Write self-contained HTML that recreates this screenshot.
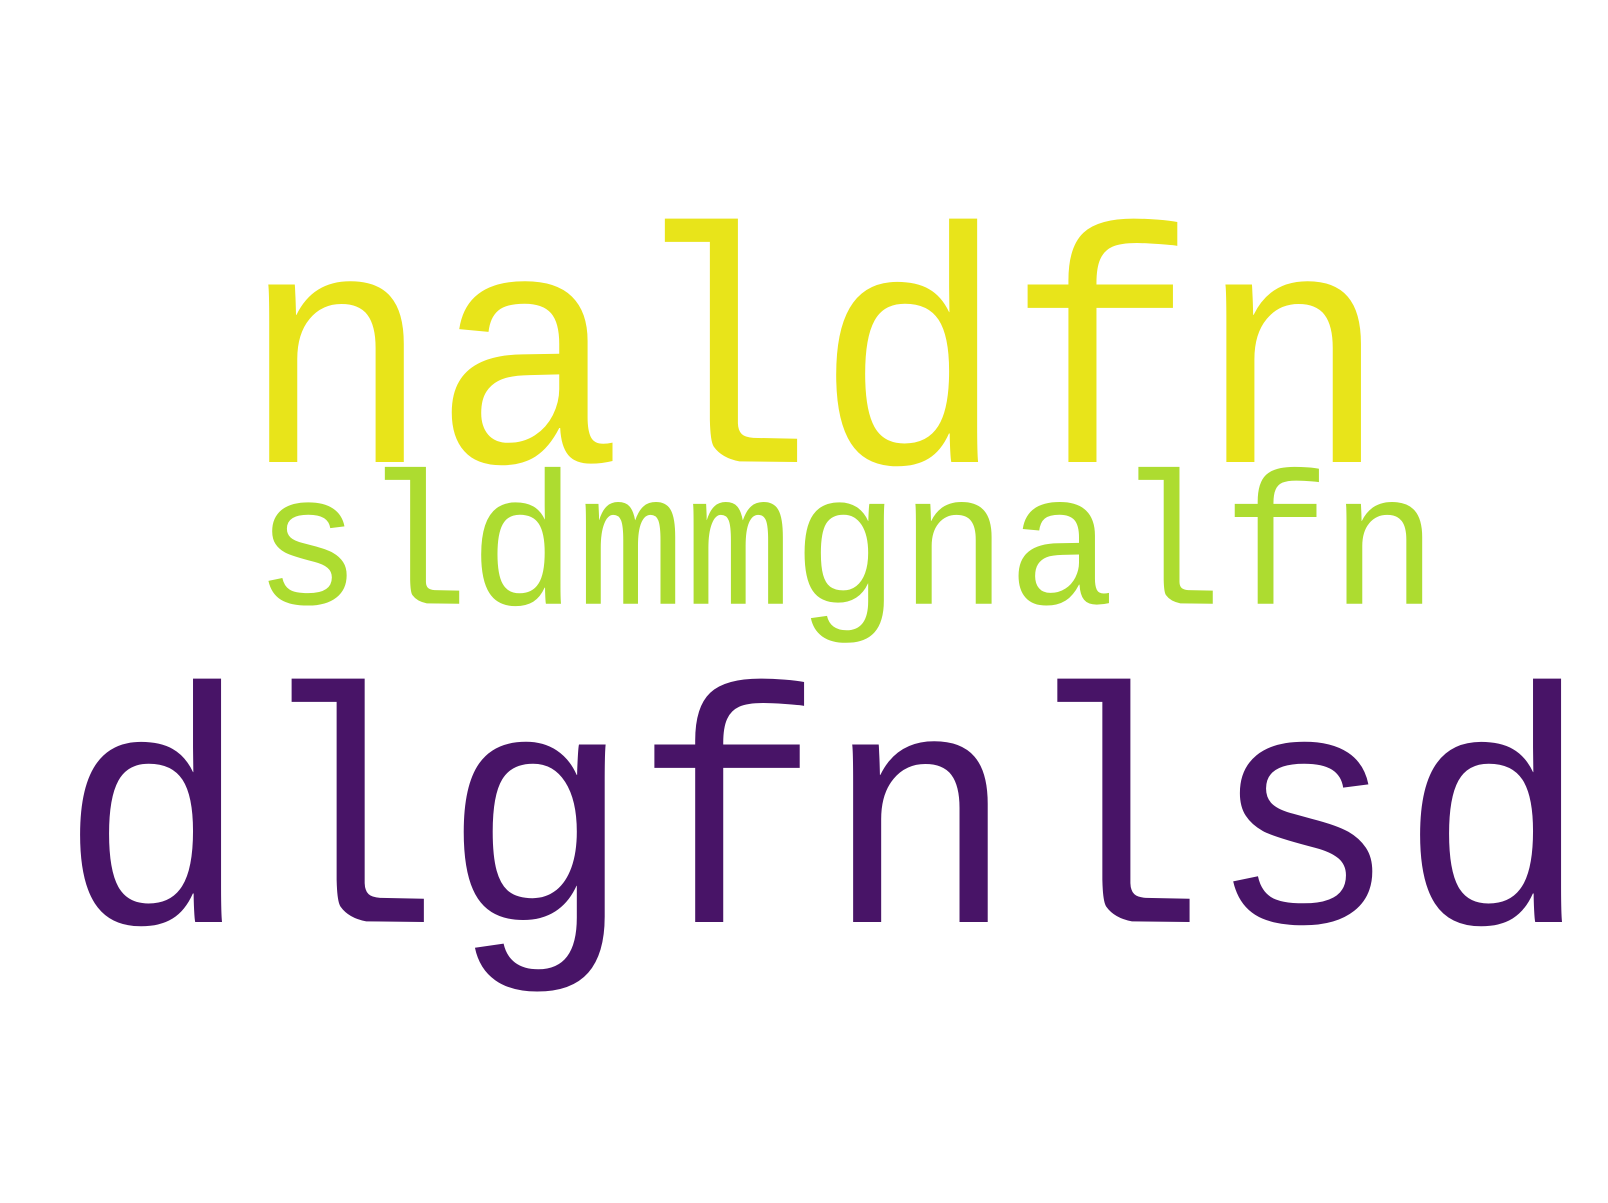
<!DOCTYPE html>
<html>
<head>
<meta charset="utf-8">
<style>
  html, body { margin: 0; padding: 0; background: #ffffff; }
  svg { display: block; }
  text { font-family: "Liberation Mono", "DejaVu Sans Mono", monospace; }
</style>
</head>
<body>
<svg id="cloud" width="1608" height="1203" viewBox="0 0 1608 1203" xmlns="http://www.w3.org/2000/svg">
  <rect x="0" y="0" width="1608" height="1203" fill="#ffffff"/>
</svg>
<script>
const words = ["naldfn", "sldmmgnalfn", "dlgfnlsd"];
const sizes = [319, 179.4, 319];
const colors = ["#e8e41a", "#addc30", "#481467"];
const svg = document.getElementById('cloud');
const layoutX = [240.4, 253.8, 58.6];
const layoutY = [462, 603.7, 922];
words.forEach((w, i) => {
  const t = document.createElementNS('http://www.w3.org/2000/svg', 'text');
  t.setAttribute('x', 0);
  t.setAttribute('y', 0);
  t.setAttribute('transform', 'translate(' + layoutX[i] + ',' + layoutY[i] + ') scale(1,1.053)');
  t.setAttribute('font-size', sizes[i]);
  t.setAttribute('fill', colors[i]);
  t.textContent = w;
  
  
  svg.appendChild(t);
});
</script>
</body>
</html>
